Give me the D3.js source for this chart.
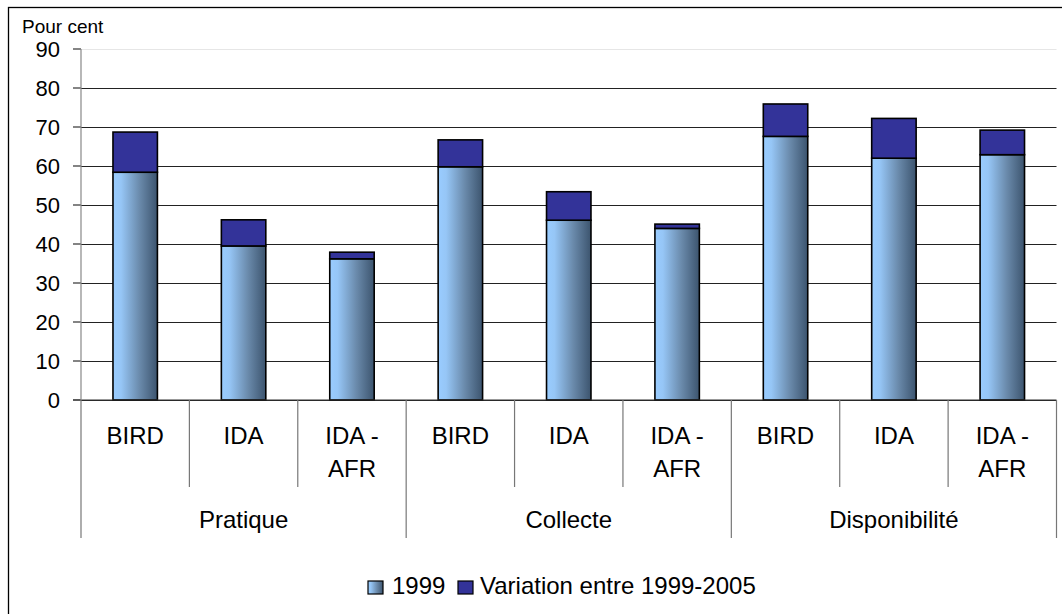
<!DOCTYPE html>
<html>
<head>
<meta charset="utf-8" />
<title>Pour cent</title>
<script src="https://cdn.jsdelivr.net/npm/d3@7/dist/d3.min.js"></script>
<style>
  body { margin: 0; background: #fff; }
  text { font-family: "Liberation Sans", Arial, sans-serif; fill: #000; }
</style>
</head>
<body>
<script>
// données
var groups = ['Pratique', 'Collecte', 'Disponibilité'];
var subcats = [['BIRD'], ['IDA'], ['IDA -', 'AFR']];
var base1999 = [58.4, 39.5, 36.2, 59.8, 46.1, 44.0, 67.6, 62.0, 62.9];
var variation = [10.3, 6.7, 1.7, 6.9, 7.3, 1.1, 8.3, 10.2, 6.3];
var yTicks = [0, 10, 20, 30, 40, 50, 60, 70, 80, 90];
var legendLabels = ['1999', 'Variation entre 1999-2005'];

var width = 1062, height = 614;
var plot = { left: 81, right: 1056.5, top: 49, bottom: 400 };

var svg = d3.select('body').append('svg').attr('width', width).attr('height', height);

// gradient des barres 1999
var grad = svg.append('defs').append('linearGradient').attr('id', 'g1999')
  .attr('x1', '0%').attr('x2', '100%').attr('y1', '0%').attr('y2', '0%');
grad.append('stop').attr('offset', '0%').attr('stop-color', '#99ccff');
grad.append('stop').attr('offset', '18%').attr('stop-color', '#96c6f6');
grad.append('stop').attr('offset', '60%').attr('stop-color', '#6a8aab');
grad.append('stop').attr('offset', '100%').attr('stop-color', '#3c546e');

// cadre
svg.append('rect').attr('x', 8.5).attr('y', 7.5).attr('width', 1070).attr('height', 620)
  .attr('fill', 'none').attr('stroke', '#000').attr('stroke-width', 1.3);

var cats = d3.range(base1999.length);
var x = d3.scaleBand().domain(cats).range([plot.left, plot.right]).paddingInner(0).paddingOuter(0);
var y = d3.scaleLinear().domain([0, 90]).range([plot.bottom, plot.top]);
var barW = x.bandwidth() * 0.41;

// grille
var yAxis = d3.axisLeft(y).tickValues(yTicks).tickSize(-(plot.right - plot.left)).tickPadding(21);
var gy = svg.append('g').attr('transform', 'translate(' + plot.left + ',0)').call(yAxis);
gy.select('.domain').remove();
gy.selectAll('.tick line').attr('stroke', function (d) { return d === 90 ? '#e6e6e6' : '#222'; })
  .attr('stroke-width', 1.2);
gy.selectAll('.tick text').attr('font-size', 22).attr('font-family', '"Liberation Sans", Arial, sans-serif');
// petits traits à gauche
svg.append('g').selectAll('line').data(yTicks).enter().append('line')
  .attr('x1', plot.left - 8).attr('x2', plot.left)
  .attr('y1', function (d) { return y(d); }).attr('y2', function (d) { return y(d); })
  .attr('stroke', '#333').attr('stroke-width', 1.2);

svg.append('text').attr('x', 22).attr('y', 33).attr('font-size', 19).text('Pour cent');

// barres
var bars = svg.append('g');
bars.selectAll('rect.b').data(cats).enter().append('rect').attr('class', 'b')
  .attr('x', function (i) { return x(i) + (x.bandwidth() - barW) / 2; })
  .attr('width', barW)
  .attr('y', function (i) { return y(base1999[i]); })
  .attr('height', function (i) { return y(0) - y(base1999[i]); })
  .attr('fill', 'url(#g1999)').attr('stroke', '#000').attr('stroke-width', 1.6);
bars.selectAll('rect.v').data(cats).enter().append('rect').attr('class', 'v')
  .attr('x', function (i) { return x(i) + (x.bandwidth() - barW) / 2; })
  .attr('width', barW)
  .attr('y', function (i) { return y(base1999[i] + variation[i]); })
  .attr('height', function (i) { return y(base1999[i]) - y(base1999[i] + variation[i]); })
  .attr('fill', '#333399').attr('stroke', '#000').attr('stroke-width', 1.6);

// axe x
svg.append('line').attr('x1', plot.left - 8).attr('x2', plot.right)
  .attr('y1', y(0)).attr('y2', y(0)).attr('stroke', '#333').attr('stroke-width', 1.2);
svg.append('line').attr('x1', plot.left).attr('x2', plot.left)
  .attr('y1', plot.top).attr('y2', plot.bottom).attr('stroke', '#888').attr('stroke-width', 1.2);

var n = base1999.length;
var dividers = d3.range(n + 1);
svg.append('g').selectAll('line').data(dividers).enter().append('line')
  .attr('x1', function (i) { return i < n ? x(i) : plot.right; })
  .attr('x2', function (i) { return i < n ? x(i) : plot.right; })
  .attr('y1', y(0))
  .attr('y2', function (i) { return i % 3 === 0 ? 538 : 487; })
  .attr('stroke', '#777').attr('stroke-width', 1.2);

// libellés des sous-catégories
cats.forEach(function (i) {
  var lines = subcats[i % 3];
  var cx = x(i) + x.bandwidth() / 2;
  lines.forEach(function (t, k) {
    svg.append('text').attr('x', cx).attr('y', 444 + k * 33).attr('text-anchor', 'middle')
      .attr('font-size', 24).text(t);
  });
});
groups.forEach(function (g, j) {
  var cx = (x(j * 3) + (j * 3 + 3 < n ? x(j * 3 + 3) : plot.right)) / 2;
  svg.append('text').attr('x', cx).attr('y', 528).attr('text-anchor', 'middle')
    .attr('font-size', 24).text(g);
});

// légende
var legX = [368, 458];
var legFill = ['url(#g1999)', '#333399'];
legendLabels.forEach(function (t, k) {
  svg.append('rect').attr('x', legX[k]).attr('y', 581).attr('width', 15).attr('height', 13)
    .attr('fill', legFill[k]).attr('stroke', '#000').attr('stroke-width', 1.2);
  svg.append('text').attr('x', legX[k] + (k === 0 ? 24 : 22)).attr('y', 594).attr('font-size', 24).text(t);
});
</script>
</body>
</html>
